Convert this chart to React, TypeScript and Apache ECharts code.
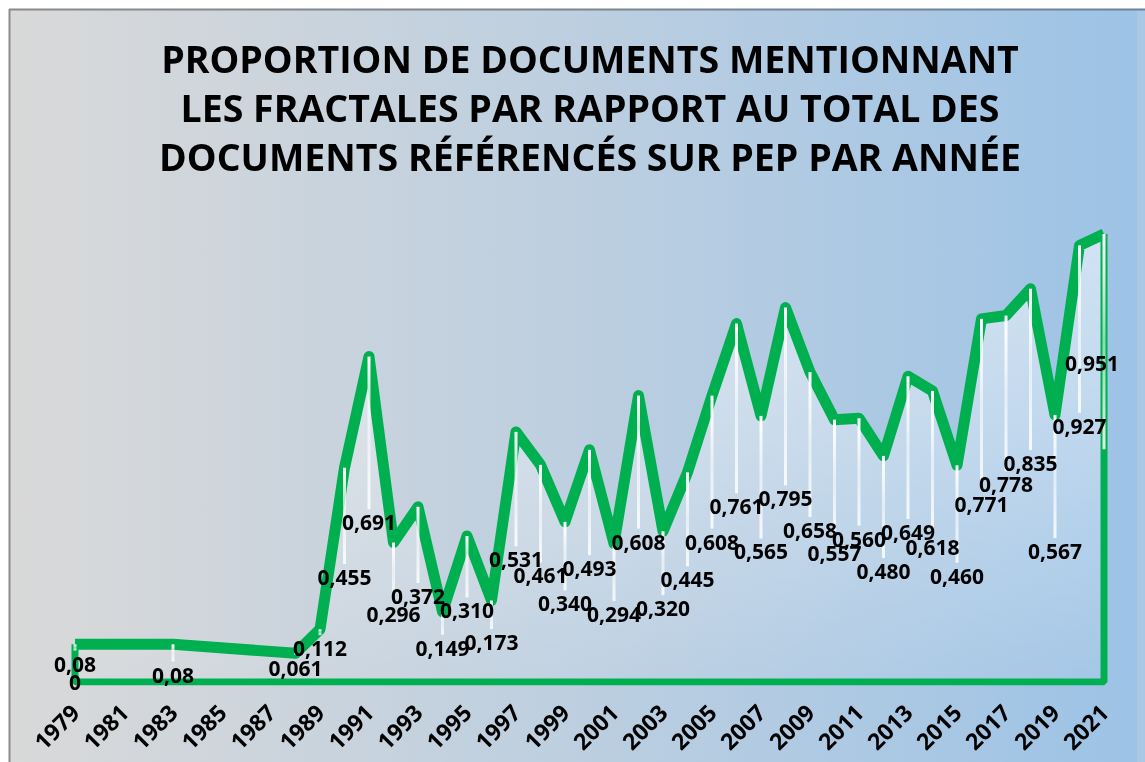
import React, { useEffect, useRef } from "react";
import * as echarts from "echarts";

// ---- data ----
const years = [
  1979, 1983, 1988, 1989, 1990, 1991, 1992, 1993, 1994, 1995, 1996, 1997, 1998, 1999, 2000,
  2001, 2002, 2003, 2004, 2005, 2006, 2007, 2008, 2009, 2010, 2011, 2012, 2013, 2014, 2015,
  2016, 2017, 2018, 2019, 2020, 2021,
];
const shares = [
  0.08, 0.08, 0.061, 0.112, 0.455, 0.691, 0.296, 0.372, 0.149, 0.31, 0.173, 0.531, 0.461, 0.34,
  0.493, 0.294, 0.608, 0.32, 0.445, 0.608, 0.761, 0.565, 0.795, 0.658, 0.557, 0.56, 0.48, 0.649,
  0.618, 0.46, 0.771, 0.778, 0.835, 0.567, 0.927, 0.951,
];
const twoDecimalYears = [1979, 1983];
const titleLines = [
  "PROPORTION DE DOCUMENTS MENTIONNANT",
  "LES FRACTALES PAR RAPPORT AU TOTAL DES",
  "DOCUMENTS RÉFÉRENCÉS SUR PEP PAR ANNÉE",
];
const firstYear = 1979;
const lastYear = 2021;
const tickStep = 2;

// ---- styles ----
const GREEN = "#00b050";
const FONT = "'Open Sans', 'Noto Sans', sans-serif";
const LABEL_RATIO = 0.4905; // labels sit at about half the point height
// label nudges (px) for labels moved by hand in the original
const labelNudge: Record<number, [number, number]> = {
  1983: [0, 11],
  1989: [0, -8],
  2011: [0, -14],
  2014: [0, 8],
  2017: [0, -18],
  2018: [0, -26],
  2020: [0, -42],
  2021: [-12, -99],
};

const fmt = (year: number, v: number) =>
  (twoDecimalYears.includes(year) ? v.toFixed(2) : v.toFixed(3)).replace(".", ",");

function labelPos(api: any, isZero: boolean) {
  const year = api.value(0);
  const v = api.value(1);
  const p = api.coord([year, v]);
  const base = api.coord([year, v * LABEL_RATIO]);
  const nudge = !isZero && labelNudge[year] ? labelNudge[year] : [0, 0];
  return { year, v, p, base, nudge, lx: p[0] + nudge[0], ly: base[1] + nudge[1] };
}

export default function App() {
  const ref = useRef<HTMLDivElement>(null);
  useEffect(() => {
    if (!ref.current) return;
    const chart = echarts.init(ref.current, undefined, { renderer: "svg" });
    const profile = years.map((y, i) => [y, shares[i]]);
    const closing = [
      [lastYear, shares[shares.length - 1]],
      [lastYear, 0],
      [firstYear, 0],
      [firstYear, shares[0]],
    ];
    const labelData = [[firstYear, 0], ...profile];

    const option: any = {
      animation: false,
      title: {
        text: titleLines.join("\n"),
        left: 585,
        top: 29,
        textAlign: "center",
        textStyle: {
          fontFamily: FONT,
          fontWeight: "bold",
          fontSize: 37.5,
          lineHeight: 49,
          color: "#000",
        },
      },
      graphic: {
        elements: [
          {
            type: "rect",
            z: -100,
            silent: true,
            shape: { x: 1137, y: 9, width: 8, height: 753 },
            style: { fill: "#a9c8e6" },
          },
          {
            type: "rect",
            z: -100,
            silent: true,
            shape: { x: 9, y: 9, width: 1128, height: 753 },
            style: {
              fill: new echarts.graphic.LinearGradient(0, 0, 1, 0, [
                { offset: 0, color: "#d9d9d9" },
                { offset: 0.5, color: "#bdcfe0" },
                { offset: 1, color: "#9dc3e6" },
              ]),
            },
          },
          {
            type: "line",
            z: -99,
            silent: true,
            shape: { x1: 9, y1: 9.5, x2: 1145, y2: 9.5 },
            style: {
              stroke: new echarts.graphic.LinearGradient(0, 0, 1136, 0, [
                { offset: 0, color: "#8a8a8a" },
                { offset: 1, color: "#6e8298" },
              ], true),
              lineWidth: 2,
            },
          },
          {
            type: "line",
            z: -99,
            silent: true,
            shape: { x1: 9.5, y1: 9, x2: 9.5, y2: 762 },
            style: { stroke: "#8c8c8c", lineWidth: 2 },
          },
        ],
      },
      grid: { left: 75, right: 41, top: 211, bottom: 80, containLabel: false },
      xAxis: {
        type: "value",
        min: firstYear,
        max: lastYear,
        interval: tickStep,
        splitLine: { show: false },
        axisLine: { show: false },
        axisTick: { show: false },
        axisLabel: {
          rotate: 45,
          margin: 26,
          formatter: (v: number) => String(v),
          fontFamily: FONT,
          fontWeight: "bold",
          fontSize: 23,
          color: "#000",
        },
      },
      yAxis: {
        type: "value",
        min: 0,
        max: 1,
        show: false,
        splitLine: { show: false },
      },
      series: [
        {
          type: "line",
          name: "profile",
          data: profile,
          symbol: "none",
          z: 3,
          lineStyle: { color: GREEN, width: 11, join: "round", cap: "butt" },
          areaStyle: {
            color: new echarts.graphic.LinearGradient(0, 0, 0, 1, [
              { offset: 0, color: "rgba(255,255,255,0.75)" },
              { offset: 1, color: "rgba(255,255,255,0.08)" },
            ]),
            origin: "start",
          },
        },
        {
          type: "line",
          name: "closing",
          data: closing,
          symbol: "none",
          z: 3,
          lineStyle: { color: GREEN, width: 7 },
        },
        {
          type: "custom",
          name: "drops",
          z: 4,
          data: profile,
          renderItem: (params: any, api: any) => {
            const { p, base, nudge, ly } = labelPos(api, false);
            const dropEnd = (nudge[0] !== 0 ? base[1] : ly) - 13;
            if (dropEnd <= p[1]) return { type: "group", children: [] };
            return {
              type: "rect",
              shape: { x: p[0] - 1.5, y: p[1], width: 3, height: dropEnd - p[1] },
              style: {
                fill: new echarts.graphic.LinearGradient(0, 0, 0, 1, [
                  { offset: 0, color: "rgba(255,255,255,1)" },
                  { offset: 0.5, color: "rgba(255,255,255,0.55)" },
                  { offset: 1, color: "rgba(255,255,255,0.85)" },
                ]),
              },
            };
          },
        },
        {
          type: "custom",
          name: "labels",
          z: 6,
          data: labelData,
          renderItem: (params: any, api: any) => {
            const isZero = params.dataIndex === 0;
            const { year, v, lx, ly } = labelPos(api, isZero);
            return {
              type: "text",
              style: {
                text: isZero ? "0" : fmt(year, v),
                x: lx,
                y: ly,
                align: "center",
                verticalAlign: "middle",
                fontFamily: FONT,
                fontWeight: "bold",
                fontSize: 21,
                fill: "#000",
              },
            };
          },
        },
      ],
    };
    chart.setOption(option);
    return () => chart.dispose();
  }, []);
  return (
    <div
      ref={ref}
      style={{ position: "fixed", left: 0, top: 0, width: 1145, height: 762 }}
    />
  );
}
